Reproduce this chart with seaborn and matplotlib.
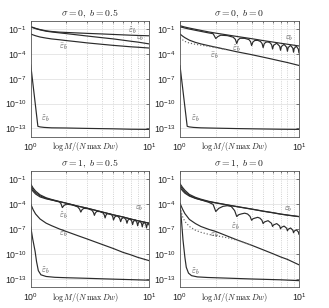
import numpy as np
import pandas as pd
import matplotlib
matplotlib.use("Agg")
import matplotlib.pyplot as plt
import matplotlib.ticker as mticker
import seaborn as sns

# ---------------- data (y values given as log10 of the error) ----------------
TITLES = [r"$\sigma = 0,\ b = 0.5$", r"$\sigma = 0,\ b = 0$",
          r"$\sigma = 1,\ b = 0.5$", r"$\sigma = 1,\ b = 0$"]
XLABEL = r"$\log M/(N\,\max\,Dw)$"
X_TICKS = [1, 10]
Y_TICKS = [1e-13, 1e-10, 1e-7, 1e-4, 1e-1]

X_SMOOTH = [1, 1.05, 1.1, 1.2, 1.35, 1.5, 1.75, 2, 2.5, 3, 4, 5, 6, 7, 8, 10]

# panel 1: sigma=0, b=0.5
P1_EPS_HAT = [-0.72, -0.82, -0.92, -1.07, -1.22, -1.30, -1.38, -1.42, -1.48, -1.53, -1.60, -1.66, -1.71, -1.75, -1.78, -1.82]
P1_EPS = [-0.76, -0.86, -0.96, -1.11, -1.27, -1.36, -1.47, -1.56, -1.72, -1.85, -2.05, -2.20, -2.35, -2.48, -2.58, -2.80]
P1_MID = [-1.60, -1.72, -1.82, -1.97, -2.10, -2.20, -2.30, -2.40, -2.55, -2.68, -2.85, -2.98, -3.07, -3.15, -3.20, -3.30]
P1_TILDE_X = [1, 1.15, 1.2, 1.3, 1.5, 2, 3, 5, 7, 10]
P1_TILDE = [-5.3, -12.75, -12.82, -12.88, -12.93, -12.95, -13.0, -13.05, -13.1, -13.12]

# panel 2: sigma=0, b=0
P2_EPS = [-0.60, -0.69, -0.77, -0.89, -1.04, -1.17, -1.36, -1.50, -1.72, -1.90, -2.17, -2.40, -2.57, -2.72, -2.84, -3.05]
P2_HAT_X = [1, 1.05, 1.1, 1.2, 1.35, 1.5, 1.75, 1.9, 2, 2.08, 2.2, 2.5, 2.8, 2.92, 3, 3.08, 3.2, 3.5, 3.8, 3.92,
            4, 4.1, 4.25, 4.5, 4.75, 4.9, 5, 5.1, 5.25, 5.5, 5.75, 5.9, 6, 6.12, 6.5, 6.88, 7, 7.12, 7.5, 7.88,
            8, 8.12, 8.5, 8.88, 9, 9.12, 9.5, 9.88, 10]
P2_HAT = [-0.75, -0.81, -0.89, -1.01, -1.16, -1.29, -1.48, -1.57, -2.15, -1.92, -1.75, -1.80, -1.99, -2.25, -2.75,
          -2.31, -2.12, -2.13, -2.28, -2.53, -3.0, -2.58, -2.39, -2.37, -2.51, -2.76, -3.25, -2.8, -2.6, -2.56,
          -2.69, -2.93, -3.42, -2.97, -2.72, -3.08, -3.57, -3.11, -2.86, -3.21, -3.69, -3.24, -2.98, -3.32, -3.8,
          -3.34, -3.08, -3.42, -3.9]
P2_MID = [-1.60, -1.85, -2.05, -2.35, -2.62, -2.80, -3.02, -3.20, -3.50, -3.75, -4.10, -4.40, -4.65, -4.87, -5.05, -5.40]
P2_DOT_X = [1, 1.05, 1.1, 1.2, 1.35, 1.5, 1.75, 2, 2.5]
P2_DOT = [-2.05, -2.3, -2.5, -2.7, -2.85, -2.95, -3.1, -3.25, -3.52]
P2_TILDE_X = [1, 1.15, 1.2, 1.3, 1.5, 2, 3, 5, 7, 10]
P2_TILDE = [-5.4, -12.75, -12.82, -12.88, -12.93, -12.97, -13.02, -13.07, -13.1, -13.12]

# panel 3: sigma=1, b=0.5
P3_EPS = [-1.60, -2.10, -2.45, -2.90, -3.25, -3.45, -3.70, -3.90, -4.25, -4.50, -4.95, -5.30, -5.55, -5.80, -6.00, -6.30]
P3_THIRD = [-2.10, -2.50, -2.80, -3.15, -3.38, -3.52, -3.72, -3.91, -4.26, -4.51, -4.96, -5.31, -5.56, -5.81, -6.01, -6.31]
P3_HAT_X = [1, 1.05, 1.1, 1.2, 1.35, 1.5, 1.65, 1.75, 1.8, 1.85, 1.914, 2.01, 2.25, 2.49, 2.586, 2.65, 2.714, 2.81,
            3.05, 3.29, 3.386, 3.45, 3.514, 3.61, 3.85, 4.09, 4.186, 4.25, 4.31, 4.40, 4.625, 4.85, 4.94, 5.0,
            5.12, 5.375, 5.63, 5.75, 5.87, 6.125, 6.38, 6.5, 6.62, 6.875, 7.13, 7.25, 7.37, 7.625, 7.88, 8.0,
            8.12, 8.375, 8.63, 8.75, 8.87, 9.125, 9.38, 9.5, 9.62, 9.85, 10]
P3_HAT = [-1.85, -2.3, -2.62, -3.02, -3.32, -3.5, -3.66, -3.76, -3.95, -4.43, -4.16, -4.02, -4.11, -4.34, -4.61,
          -4.97, -4.68, -4.52, -4.56, -4.75, -5.01, -5.36, -5.07, -4.89, -4.91, -5.08, -5.33, -5.67, -5.37, -5.18,
          -5.18, -5.33, -5.58, -5.92, -5.56, -5.40, -5.70, -6.12, -5.76, -5.60, -5.89, -6.31, -5.94, -5.77, -6.05,
          -6.47, -6.10, -5.92, -6.20, -6.61, -6.24, -6.06, -6.34, -6.75, -6.38, -6.19, -6.46, -6.87, -6.5, -6.3, -6.55]
P3_MID = [-4.0, -4.7, -5.2, -5.8, -6.3, -6.6, -7.0, -7.3, -7.8, -8.2, -8.85, -9.35, -9.8, -10.1, -10.4, -10.8]
P3_TILDE_X = [1, 1.04, 1.09, 1.12, 1.16, 1.22, 1.35, 1.6, 2, 3, 5, 7, 10]
P3_TILDE = [-6.7, -8.2, -9.7, -10.9, -12.0, -12.5, -12.7, -12.8, -12.85, -12.92, -13.02, -13.08, -13.15]

# panel 4: sigma=1, b=0
P4_EPS = [-1.55, -2.00, -2.35, -2.85, -3.20, -3.42, -3.68, -3.85, -4.10, -4.30, -4.60, -4.85, -5.03, -5.20, -5.32, -5.50]
P4_THIRD = [-2.00, -2.40, -2.70, -3.05, -3.33, -3.50, -3.72, -3.87, -4.12, -4.32, -4.62, -4.87, -5.05, -5.22, -5.34, -5.52]
P4_HAT_X = [1, 1.05, 1.1, 1.2, 1.35, 1.5, 1.75, 1.9, 2, 2.12, 2.3, 2.5, 2.7, 2.88, 3, 3.12, 3.3, 3.5, 3.7, 3.88,
            4, 4.12, 4.3, 4.5, 4.7, 4.88, 5, 5.12, 5.5, 5.88, 6, 6.12, 6.5, 6.88, 7, 7.12, 7.5, 7.88, 8, 8.12,
            8.5, 8.88, 9, 9.12, 9.5, 9.88, 10]
P4_HAT = [-1.75, -2.2, -2.53, -2.98, -3.3, -3.5, -3.8, -4.05, -4.9, -4.52, -4.28, -4.2, -4.3, -4.79, -5.5, -5.28,
          -5.18, -5.1, -5.2, -5.48, -5.95, -5.76, -5.68, -5.6, -5.7, -5.94, -6.35, -6.16, -6.0, -6.32, -6.7, -6.51,
          -6.35, -6.63, -6.98, -6.8, -6.65, -6.91, -7.22, -7.03, -6.88, -7.14, -7.45, -7.26, -7.1, -7.35, -7.65]
P4_MID = [-3.9, -4.6, -5.15, -5.85, -6.35, -6.7, -7.05, -7.3, -7.85, -8.3, -8.95, -9.5, -9.95, -10.35, -10.65, -11.3]
P4_DOT_X = [1, 1.05, 1.1, 1.2, 1.35, 1.5, 1.75, 2, 2.5, 3, 4]
P4_DOT = [-4.4, -5.5, -6.1, -6.7, -7.15, -7.4, -7.65, -7.8, -8.05, -8.33, -8.95]
P4_TILDE_X = [1, 1.03, 1.06, 1.1, 1.13, 1.18, 1.25, 1.4, 1.7, 2.5, 4, 7, 10]
P4_TILDE = [-4.0, -6.0, -8.3, -10.4, -11.6, -12.3, -12.6, -12.75, -12.82, -12.9, -13.0, -13.1, -13.2]

HAT = r"$\hat{\varepsilon}_b$"
EPS = r"$\varepsilon_b$"
MID = r"$\bar{\varepsilon}_b$"
TIL = r"$\tilde{\varepsilon}_b$"

# curves per panel: (x, log10 y, linestyle)
PANELS = [
    [(X_SMOOTH, P1_EPS_HAT, "-"), (X_SMOOTH, P1_EPS, "-"), (X_SMOOTH, P1_MID, "-"), (P1_TILDE_X, P1_TILDE, "-")],
    [(X_SMOOTH, P2_EPS, "-"), (P2_HAT_X, P2_HAT, "-"), (X_SMOOTH, P2_MID, "-"), (P2_DOT_X, P2_DOT, ":"),
     (P2_TILDE_X, P2_TILDE, "-")],
    [(X_SMOOTH, P3_EPS, "-"), (X_SMOOTH, P3_THIRD, "-"), (P3_HAT_X, P3_HAT, "-"), (X_SMOOTH, P3_MID, "-"),
     (P3_TILDE_X, P3_TILDE, "-")],
    [(X_SMOOTH, P4_EPS, "-"), (X_SMOOTH, P4_THIRD, "-"), (P4_HAT_X, P4_HAT, "-"), (X_SMOOTH, P4_MID, "-"),
     (P4_DOT_X, P4_DOT, ":"), (P4_TILDE_X, P4_TILDE, "-")],
]

# curve labels: (text, x, log10 y)
LABELS = [
    [(HAT, 7.2, -1.1), (EPS, 8.4, -2.15), (MID, 1.87, -3.12), (TIL, 1.32, -11.8)],
    [(EPS, 8.3, -2.15), (HAT, 2.95, -3.25), (MID, 1.93, -4.2), (TIL, 1.35, -11.8)],
    [(EPS, 8.3, -4.48), (HAT, 1.88, -5.29), (MID, 1.88, -7.6), (TIL, 1.32, -12.0)],
    [(EPS, 8.1, -4.69), (HAT, 2.94, -6.6), (MID, 1.93, -7.7), (TIL, 1.35, -12.1)],
]

# ---------------- styling ----------------
sns.set_theme(style="white")
plt.rcParams["font.family"] = ["Liberation Sans", "DejaVu Sans"]
plt.rcParams["mathtext.fontset"] = "cm"

LINE_COLOR = "#2b2b2b"
POSITIONS = [
    [0.0933, 0.5562, 0.3600, 0.3766],
    [0.5470, 0.5562, 0.3617, 0.3766],
    [0.0933, 0.0672, 0.3600, 0.3786],
    [0.5470, 0.0672, 0.3617, 0.3786],
]

fig = plt.figure(figsize=(3.29, 3.08), dpi=100)
for i in range(4):
    ax = fig.add_axes(POSITIONS[i])
    ax.set_xscale("log")
    ax.set_yscale("log")
    for (xs, ys, ls) in PANELS[i]:
        df = pd.DataFrame({"x": xs, "y": np.power(10.0, ys)})
        sns.lineplot(data=df, x="x", y="y", ax=ax,
                     color=LINE_COLOR if ls == "-" else "#666666",
                     linewidth=0.85, linestyle=ls, estimator=None, sort=False)
    for (txt, lx, ly) in LABELS[i]:
        ax.text(lx, 10.0 ** ly, txt, fontsize=6, ha="center", va="center", color="#333333")
    ax.set_xlim(1, 10)
    ax.set_ylim(1e-14, 1e0)
    ax.set_xticks(X_TICKS)
    ax.set_yticks(Y_TICKS)
    ax.xaxis.set_minor_locator(mticker.LogLocator(base=10, subs=np.arange(2, 10)))
    ax.xaxis.set_minor_formatter(mticker.NullFormatter())
    ax.yaxis.set_minor_locator(mticker.NullLocator())
    ax.xaxis.set_major_formatter(mticker.LogFormatterSciNotation())
    ax.yaxis.set_major_formatter(mticker.LogFormatterSciNotation())
    ax.grid(True, which="major", axis="y", color="#e3e3e3", linewidth=0.6, linestyle="-")
    ax.grid(True, which="minor", axis="x", color="#c4c4c4", linewidth=0.6, linestyle=":")
    ax.set_axisbelow(True)
    ax.tick_params(axis="both", which="major", labelsize=6.3, direction="in", length=2.5,
                   width=0.5, pad=3, colors="#444444", labelcolor="#222222", top=True, right=True)
    ax.tick_params(axis="x", which="minor", direction="in", length=1.5, width=0.4, top=True)
    for sp in ax.spines.values():
        sp.set_color("#555555")
        sp.set_linewidth(0.6)
    ax.set_xlabel("")
    ax.set_ylabel("")
    ax.set_title(TITLES[i], fontsize=7, pad=3, color="#222222")
    ax.text(0.46, -0.085, XLABEL, transform=ax.transAxes, fontsize=5.8, ha="center",
            va="center", color="#222222")

fig.savefig("out.png", dpi=100)
